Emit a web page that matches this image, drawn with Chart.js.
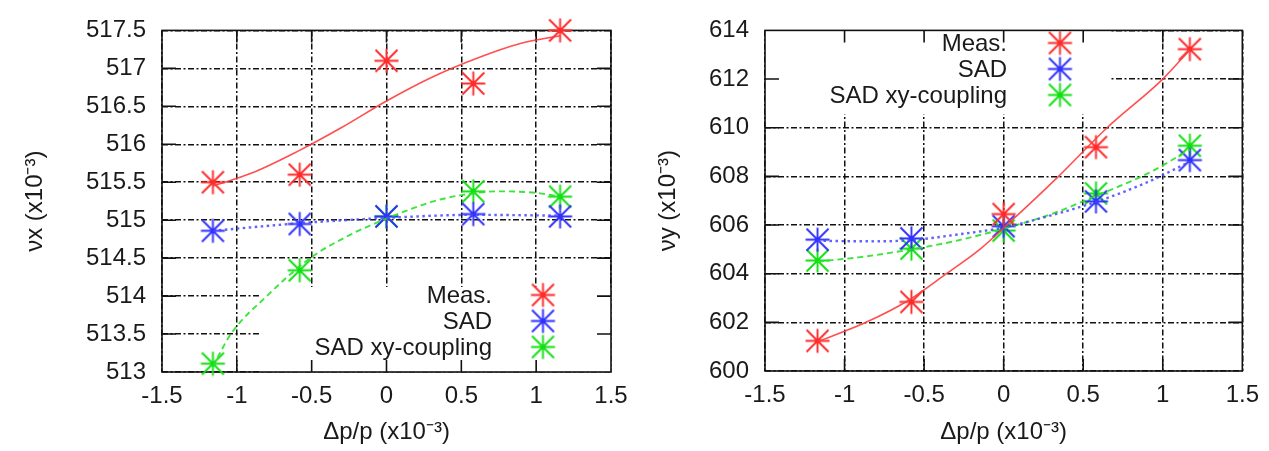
<!DOCTYPE html>
<html>
<head>
<meta charset="utf-8">
<script src="https://cdn.jsdelivr.net/npm/chart.js@4.4.0/dist/chart.umd.min.js"></script>
<style>
  body { margin: 0; background: #fff; width: 1269px; height: 451px; overflow: hidden; display: flex; }
  canvas { display: block; }
</style>
</head>
<body>
<canvas id="nuxChart" width="640" height="451"></canvas>
<canvas id="nuyChart" width="629" height="451"></canvas>
<script>
// measured points, dp/p in units of 1e-3
const dpX = [-1.16, -0.58, 0, 0.58, 1.16];
const dpY = [-1.17, -0.58, 0, 0.58, 1.17];
const nuxMeas = [515.5, 515.6, 517.1, 516.8, 517.5];
const nuxSad  = [514.86, 514.95, 515.05, 515.08, 515.05];
const nuxCoup = [513.11, 514.34, 515.05, 515.38, 515.31];
const nuyMeas = [601.24, 602.84, 606.45, 609.2, 613.23];
const nuySad  = [605.4, 605.45, 605.95, 606.97, 608.67];
const nuyCoup = [604.54, 605.03, 605.77, 607.3, 609.26];

// fitted curves
const nuxMeasFitX = [-1.16, -0.9, -0.6, -0.3, 0, 0.3, 0.6, 0.9, 1.16];
const nuxMeasFitY = [515.45, 515.62, 515.9, 516.22, 516.57, 516.88, 517.13, 517.33, 517.43];
const nuxSadFitX  = [-1.16, -0.58, 0, 0.58, 1.16];
const nuxSadFitY  = [514.86, 514.96, 515.03, 515.07, 515.06];
const nuxCoupFitX = [-1.16, -1.04, -0.8, -0.51, -0.25, 0, 0.3, 0.5, 0.75, 1.0, 1.16];
const nuxCoupFitY = [513.07, 513.5, 514.0, 514.5, 514.8, 515.02, 515.24, 515.33, 515.38, 515.36, 515.31];

const nuyMeasFitX = [-1.17, -0.865, -0.6, -0.36, -0.15, 0.02, 0.345, 0.65, 1.0, 1.17];
const nuyMeasFitY = [601.2, 602.0, 602.9, 604.0, 605.0, 606.0, 608.0, 610.0, 612.0, 613.2];
const nuySadFitX  = [-1.17, -0.8, -0.58, -0.3, 0, 0.3, 0.58, 0.9, 1.17];
const nuySadFitY  = [605.35, 605.33, 605.38, 605.6, 605.9, 606.4, 606.95, 607.75, 608.6];
const nuyCoupFitX = [-1.17, -0.9, -0.58, -0.3, 0, 0.3, 0.58, 0.9, 1.17];
const nuyCoupFitY = [604.5, 604.68, 605.0, 605.35, 605.85, 606.45, 607.2, 608.1, 609.1];

const keyLabels = ['Meas.', 'SAD', 'SAD xy-coupling'];

const FONT = { family: "'Liberation Sans', Arial, sans-serif", size: 24 };
const INK = '#1a1a1a';
const RED = '#ff2a2a', BLUE = '#3030ff', GREEN = '#10e010';
const GRID_DASH = [6, 2.5, 2, 2.5];

// gnuplot style "*" marker
function star(color) {
  const c = document.createElement('canvas');
  c.width = 27; c.height = 27;
  const g = c.getContext('2d');
  g.strokeStyle = color;
  g.lineWidth = 1.9;
  g.beginPath();
  g.moveTo(1.5, 13.5); g.lineTo(25.5, 13.5);
  g.moveTo(13.5, 1.5); g.lineTo(13.5, 25.5);
  g.moveTo(2.5, 2.5); g.lineTo(24.5, 24.5);
  g.moveTo(24.5, 2.5); g.lineTo(2.5, 24.5);
  g.stroke();
  return c;
}
const stars = [star(RED), star(BLUE), star(GREEN)];

function pts(xs, ys) {
  return xs.map((v, i) => ({ x: v, y: ys[i] }));
}

// border box, inward tics, opaque key area and key
const framePlugin = {
  id: 'frame',
  beforeDatasetsDraw(chart, args, opts) {
    const { ctx, chartArea: a, scales: { x, y } } = chart;
    const b = opts.keyBox;
    const l = x.getPixelForValue(b[0]), r = x.getPixelForValue(b[1]);
    const t = y.getPixelForValue(b[3]), bt = y.getPixelForValue(b[2]);
    ctx.save();
    ctx.fillStyle = '#fff';
    ctx.fillRect(l, t, r - l, bt - t);
    ctx.strokeStyle = '#111';
    ctx.lineWidth = 1.6;
    ctx.beginPath();
    x.ticks.forEach(tk => {
      if (tk.value <= x.min || tk.value >= x.max) return;
      const px = x.getPixelForValue(tk.value);
      ctx.moveTo(px, a.bottom); ctx.lineTo(px, a.bottom - 12);
      ctx.moveTo(px, a.top); ctx.lineTo(px, a.top + 12);
    });
    y.ticks.forEach(tk => {
      if (tk.value <= y.min || tk.value >= y.max) return;
      const py = y.getPixelForValue(tk.value);
      ctx.moveTo(a.left, py); ctx.lineTo(a.left + 14, py);
      ctx.moveTo(a.right, py); ctx.lineTo(a.right - 14, py);
    });
    ctx.stroke();
    ctx.strokeRect(a.left, a.top, a.width, a.height);
    ctx.restore();
  },
  afterDatasetsDraw(chart, args, opts) {
    const { ctx } = chart;
    const k = opts.key;
    ctx.save();
    ctx.font = FONT.size + 'px ' + FONT.family;
    ctx.fillStyle = INK;
    ctx.textAlign = 'right';
    ctx.textBaseline = 'middle';
    keyLabels.forEach((lab, i) => {
      const yy = k.y + i * k.dy;
      ctx.fillText(lab, k.textRight, yy + 1);
      ctx.drawImage(stars[i], k.markX - 13.5, yy - 13.5);
    });
    ctx.restore();
  }
};

function makeChart(id, cfg) {
  const fit = (xs, ys, color, dash, width) => ({
    type: 'line', data: pts(xs, ys), borderColor: color, borderWidth: width,
    borderDash: dash, pointRadius: 0, fill: false, showLine: true,
    cubicInterpolationMode: 'monotone'
  });
  const marks = (xs, ys, i) => ({
    data: pts(xs, ys), pointStyle: stars[i], pointRadius: 12,
    showLine: false, clip: false
  });
  return new Chart(document.getElementById(id), {
    type: 'scatter',
    data: {
      datasets: [
        fit(cfg.fits[0][0], cfg.fits[0][1], 'rgba(255,60,60,0.9)', [], 1.6),
        fit(cfg.fits[1][0], cfg.fits[1][1], 'rgba(70,70,255,0.85)', [2.5, 3.5], 2.4),
        fit(cfg.fits[2][0], cfg.fits[2][1], 'rgba(40,225,40,0.9)', [6, 4], 1.9),
        marks(cfg.dp, cfg.series[0], 0),
        marks(cfg.dp, cfg.series[1], 1),
        marks(cfg.dp, cfg.series[2], 2)
      ]
    },
    options: {
      responsive: false,
      animation: false,
      events: [],
      layout: { padding: { left: 0, right: cfg.padRight, top: 22, bottom: 0 } },
      plugins: {
        legend: { display: false },
        tooltip: { enabled: false },
        frame: { keyBox: cfg.keyBox, key: cfg.key }
      },
      scales: {
        x: {
          type: 'linear', min: -1.5, max: 1.5,
          ticks: { stepSize: 0.5, padding: 10, font: FONT, color: INK, callback: v => String(v) },
          grid: { color: '#111', lineWidth: 1.5, drawTicks: false, tickLength: 0 },
          border: { display: false, dash: GRID_DASH },
          title: { display: true, text: 'Δp/p (x10⁻³)', font: FONT, color: INK, padding: { top: 0, bottom: 4 } },
          afterFit: s => { s.height = cfg.xAxisH; }
        },
        y: {
          type: 'linear', min: cfg.yMin, max: cfg.yMax,
          ticks: { stepSize: cfg.yStep, padding: 16, font: FONT, color: INK, callback: v => String(v) },
          grid: { color: '#111', lineWidth: 1.5, drawTicks: false, tickLength: 0 },
          border: { display: false, dash: GRID_DASH },
          title: { display: true, text: cfg.yTitle, font: FONT, color: INK, padding: { top: cfg.yTitlePad, bottom: 0 } },
          afterFit: s => { s.width = cfg.yAxisW; }
        }
      }
    },
    plugins: [framePlugin]
  });
}

makeChart('nuxChart', {
  dp: dpX,
  series: [nuxMeas, nuxSad, nuxCoup],
  fits: [[nuxMeasFitX, nuxMeasFitY], [nuxSadFitX, nuxSadFitY], [nuxCoupFitX, nuxCoupFitY]],
  yMin: 513, yMax: 517.5, yStep: 0.5,
  yTitle: 'νx (x10⁻³)', yTitlePad: 21,
  yAxisW: 162, xAxisH: 79, padRight: 29,
  keyBox: [-0.84, 1.5, 513, 514.12],
  key: { textRight: 492, markX: 543, y: 295, dy: 26 }
});

makeChart('nuyChart', {
  dp: dpY,
  series: [nuyMeas, nuySad, nuyCoup],
  fits: [[nuyMeasFitX, nuyMeasFitY], [nuySadFitX, nuySadFitY], [nuyCoupFitX, nuyCoupFitY]],
  yMin: 600, yMax: 614, yStep: 2,
  yTitle: 'νy (x10⁻³)', yTitlePad: 14,
  yAxisW: 125, xAxisH: 80, padRight: 26,
  keyBox: [-1.5, 0.667, 610.56, 614],
  key: { textRight: 367, markX: 420, y: 43, dy: 26 }
});
</script>
</body>
</html>
